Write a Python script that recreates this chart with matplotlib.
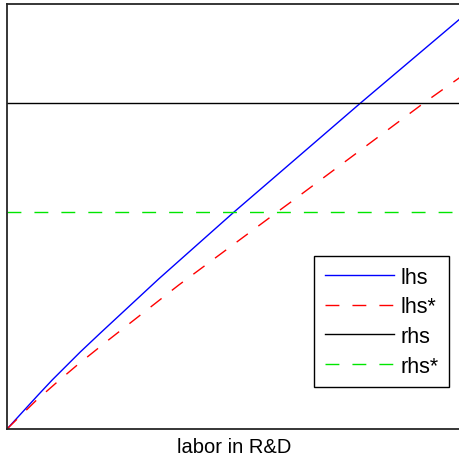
import matplotlib
matplotlib.use("Agg")
import matplotlib.pyplot as plt

plt.rcParams['font.family'] = ['Liberation Sans', 'DejaVu Sans']

# data (normalized axes 0..1)
lhs_x = [0.0, 0.0684, 0.0993, 0.161, 0.2053, 0.3333, 0.499, 0.583, 0.777, 1.0]
lhs_y = [0.0, 0.080, 0.1153, 0.1812, 0.2259, 0.353, 0.5106, 0.588, 0.767, 0.969]
lhs_star_x = [0.0, 0.064, 0.1104, 0.1545, 0.223, 0.3775, 0.594, 0.627, 0.916, 0.9625, 1.0]
lhs_star_y = [0.0, 0.0671, 0.1106, 0.1506, 0.2094, 0.3388, 0.5106, 0.5365, 0.767, 0.8024, 0.8306]
rhs_level = 0.767
rhs_star_level = 0.5106
labels = ['lhs', 'lhs*', 'rhs', 'rhs*']
xlabel = 'labor in R&D'

fig = plt.figure(figsize=(4.6, 4.64), dpi=100)
ax = fig.add_axes([7/460, 1 - 430/464, 455/460, 425/464])

ax.plot(lhs_x, lhs_y, color=(0, 0, 1), lw=1.0, label=labels[0])
ax.plot(lhs_star_x, lhs_star_y, color=(1, 0, 0), lw=1.0, dashes=(10, 9.4), label=labels[1])
ax.plot([0, 1], [rhs_level, rhs_level], color='black', lw=1.0, label=labels[2])
ax.plot([0, 1], [rhs_star_level, rhs_star_level], color=(0, 0.9, 0), lw=1.0, dashes=(10, 9.4), label=labels[3])

ax.set_xlim(0, 1)
ax.set_ylim(0, 1)
ax.set_xticks([])
ax.set_yticks([])
for s in ax.spines.values():
    s.set_color('#262626')
    s.set_linewidth(1.3)
ax.spines['right'].set_visible(False)

ax.set_xlabel(xlabel, fontsize=14.5, labelpad=6)

leg = ax.legend(loc='upper left', bbox_to_anchor=(314/460, 1 - 257/464),
                bbox_transform=fig.transFigure, fontsize=15.5,
                fancybox=False, framealpha=1, edgecolor='black',
                handlelength=3.2, handletextpad=0.3, borderpad=0.5,
                labelspacing=0.4, borderaxespad=0)
leg.get_frame().set_linewidth(1.0)

fig.savefig('out.png', dpi=100)
